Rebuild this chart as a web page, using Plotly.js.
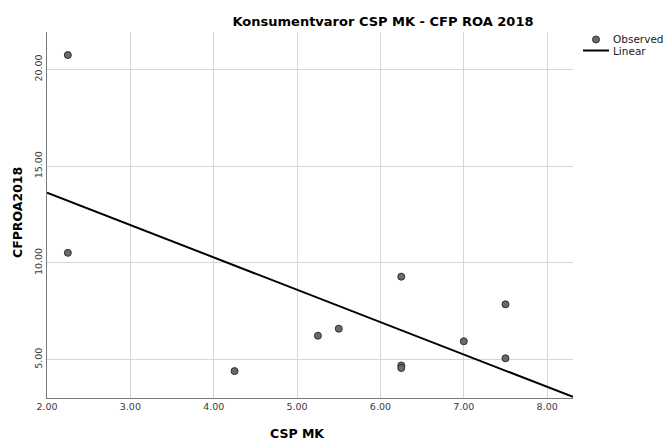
<!DOCTYPE html>
<html>
<head>
<meta charset="utf-8">
<script src="https://cdn.plot.ly/plotly-3.0.1.min.js"></script>
<style>html,body{margin:0;padding:0;background:#fff;}#chart{width:663px;height:440px;}</style>
</head>
<body>
<div id="chart"></div>
<script>
// Data
const cspMK = [2.25, 2.25, 4.25, 5.25, 5.5, 6.25, 6.25, 6.25, 7.0, 7.5, 7.5];
const cfpROA2018 = [20.74, 10.52, 4.41, 6.24, 6.60, 9.29, 4.70, 4.57, 5.95, 7.86, 5.07];
const xRange = [2.0, 8.31];
const yRange = [3.02, 21.93];
const xTicks = [2, 3, 4, 5, 6, 7, 8];
const yTicks = [5, 10, 15, 20];

// least-squares linear fit of the observed points
const n = cspMK.length;
const mx = cspMK.reduce((a, b) => a + b, 0) / n;
const my = cfpROA2018.reduce((a, b) => a + b, 0) / n;
let sxy = 0, sxx = 0;
for (let i = 0; i < n; i++) { sxy += (cspMK[i] - mx) * (cfpROA2018[i] - my); sxx += (cspMK[i] - mx) ** 2; }
const slope = sxy / sxx, intercept = my - slope * mx;
const fitX = xRange.slice();
const fitY = fitX.map(x => intercept + slope * x);

// layout geometry (pixels)
const W = 663, H = 440, L = 47, R = 573, T = 32, B = 398;
const px = x => (x - L) / (R - L);
const py = y => (B - y) / (B - T);

const font = '"DejaVu Sans", Verdana, sans-serif';
const markerFill = '#6a6a6a', markerLine = '#2e2e2e';

const traces = [
  { type: 'scatter', mode: 'markers', x: cspMK, y: cfpROA2018, name: 'Observed',
    marker: { size: 7, color: markerFill, line: { color: markerLine, width: 1 } }, cliponaxis: false, hoverinfo: 'x+y' },
  { type: 'scatter', mode: 'lines', x: fitX, y: fitY, name: 'Linear',
    line: { color: '#000', width: 2 }, hoverinfo: 'x+y' }
];

const layout = {
  width: W, height: H,
  margin: { l: L, r: W - R, t: T, b: H - B },
  paper_bgcolor: '#fff', plot_bgcolor: '#fff',
  showlegend: false,
  font: { family: font, color: '#222' },
  title: { text: 'Konsumentvaror CSP MK - CFP ROA 2018', x: 383 / W, xref: 'container', xanchor: 'center',
           y: 1 - 21 / H, yref: 'container', yanchor: 'middle',
           font: { family: font, size: 13, weight: 'bold', color: '#000' } },
  xaxis: { range: xRange, tickvals: xTicks, ticktext: xTicks.map(v => v.toFixed(2)),
           showgrid: true, gridcolor: '#d6d6d6', gridwidth: 1, zeroline: false,
           showline: true, linecolor: '#7a7a7a', linewidth: 1, ticks: '', ticklen: 0,
           tickfont: { family: font, size: 9.5, color: '#3a3a3a' }, fixedrange: true },
  yaxis: { range: yRange, tickvals: yTicks, ticktext: yTicks.map(v => v.toFixed(2)), tickangle: -90,
           showgrid: true, gridcolor: '#d6d6d6', gridwidth: 1, zeroline: false,
           showline: true, linecolor: '#7a7a7a', linewidth: 1, ticks: '', ticklen: 0,
           tickfont: { family: font, size: 9.5, color: '#3a3a3a' }, fixedrange: true },
  annotations: [
    { text: '<b>CSP MK</b>', xref: 'paper', yref: 'paper', x: px(297), y: py(433), xanchor: 'center', yanchor: 'middle',
      showarrow: false, font: { family: font, size: 12.5, color: '#000' } },
    { text: '<b>CFPROA2018</b>', xref: 'paper', yref: 'paper', x: px(17), y: py(213), xanchor: 'center', yanchor: 'middle',
      textangle: -90, showarrow: false, font: { family: font, size: 12.5, color: '#000' } },
    { text: 'Observed', xref: 'paper', yref: 'paper', x: px(611), y: py(39.5), xanchor: 'left', yanchor: 'middle',
      showarrow: false, font: { family: font, size: 10.5, color: '#222' } },
    { text: 'Linear', xref: 'paper', yref: 'paper', x: px(611), y: py(51), xanchor: 'left', yanchor: 'middle',
      showarrow: false, font: { family: font, size: 10.5, color: '#222' } }
  ],
  shapes: [
    { type: 'circle', xref: 'paper', yref: 'paper', x0: px(592.5), x1: px(599.5), y0: py(36), y1: py(43),
      fillcolor: markerFill, line: { color: markerLine, width: 1 } },
    { type: 'line', xref: 'paper', yref: 'paper', x0: px(583), x1: px(609), y0: py(50.5), y1: py(50.5),
      line: { color: '#000', width: 2 } }
  ]
};

Plotly.newPlot('chart', traces, layout, { displayModeBar: false, staticPlot: true });
</script>
</body>
</html>
